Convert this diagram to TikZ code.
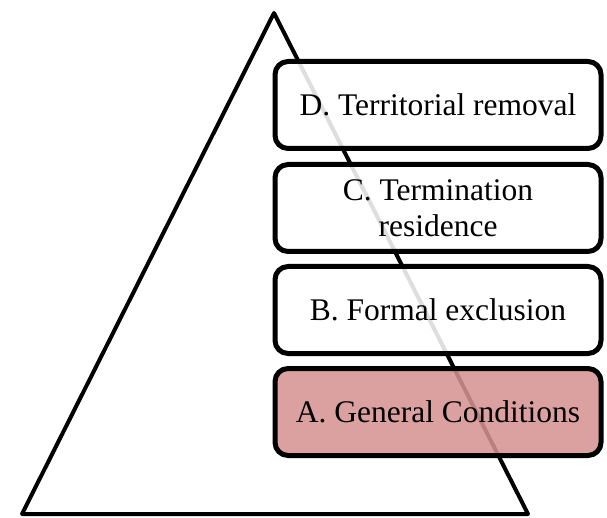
\documentclass[tikz,border=0pt]{standalone}
\usepackage{fontspec}
\setmainfont{Liberation Serif}

\definecolor{levelpink}{RGB}{214,146,146}

\begin{document}
\begin{tikzpicture}[x=1pt, y=-1pt, line join=round,
		level/.style={draw, line width=5pt, rounded corners=13pt, fill=white, fill opacity=0.87, text opacity=1,
			minimum width=326pt, minimum height=87pt, inner sep=0pt, align=center,
			font=\fontsize{31.5}{36}\selectfont}]
		\useasboundingbox (0, 0) rectangle (607, 518);
		
		\coordinate (top) at (274, 13);
		\coordinate (left) at (22, 514);
		\coordinate (right) at (528, 514);
		\draw[line width=4pt] (top) -- (right) -- (left) -- cycle;
		
		\node[level] (removal) at (438, 105) {D. Territorial removal};
		\node[level] (termination) at (438, 208) {C. Termination\\residence};
		\node[level] (exclusion) at (438, 310) {B. Formal exclusion};
		\node[level, fill=levelpink] (general) at (438, 412) {A. General Conditions};
		
	\end{tikzpicture}
\end{document}
